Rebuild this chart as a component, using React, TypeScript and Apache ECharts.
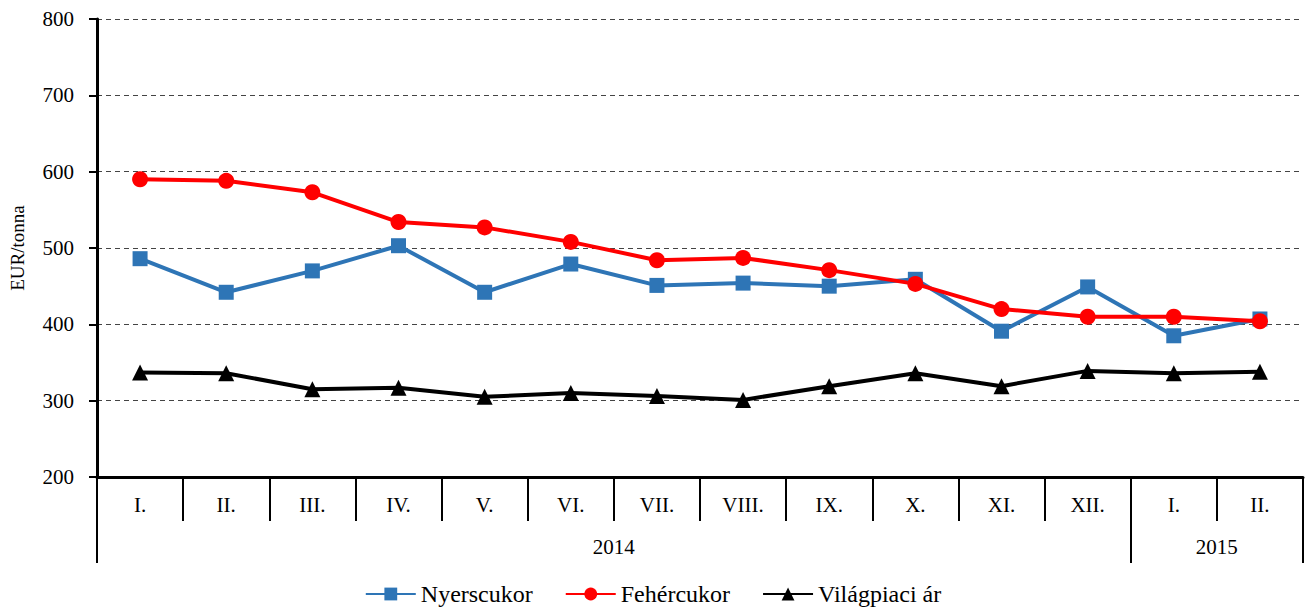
import React, { useEffect, useRef } from "react";
import * as echarts from "echarts";

const months = ["I.", "II.", "III.", "IV.", "V.", "VI.", "VII.", "VIII.", "IX.", "X.", "XI.", "XII.", "I.", "II."];
const years = ["2014", "2015"];
const yearSpans = [12, 2];
const nyerscukor = [486, 442, 470, 503, 442, 479, 451, 454, 450, 459, 391, 449, 385, 407];
const fehercukor = [590, 588, 573, 534, 527, 508, 484, 487, 471, 453, 420, 410, 410, 404];
const vilagpiaci = [337, 336, 315, 317, 305, 310, 306, 301, 319, 336, 319, 339, 336, 338];

const FONT = "Liberation Serif";

export default function App() {
  const ref = useRef<HTMLDivElement>(null);
  useEffect(() => {
    document.body.style.margin = "0";
    const chart = echarts.init(ref.current!, null, { renderer: "svg" });
    const n = months.length * 2 + 1;
    const yearData: string[] = new Array(n).fill("");
    const tickIdx = new Set<number>([0]);
    let start = 0;
    yearSpans.forEach((span, i) => {
      yearData[start + span] = years[i];
      start += span * 2;
      tickIdx.add(start);
    });
    const textStyle = { fontFamily: FONT, fontSize: 21, color: "#000" };
    chart.setOption({
      animation: false,
      textStyle: { fontFamily: FONT },
      grid: { left: 97, right: 3, top: 19, bottom: 134, containLabel: false, outerBoundsMode: "none" },
      legend: {
        bottom: 0,
        left: "center",
        itemWidth: 50,
        itemHeight: 16,
        itemGap: 32,
        textStyle: { fontFamily: FONT, fontSize: 24, color: "#000" },
        data: ["Nyerscukor", "Fehércukor", "Világpiaci ár"],
      },
      xAxis: [
        {
          type: "category",
          data: months,
          boundaryGap: true,
          axisLine: { lineStyle: { color: "#000", width: 3 } },
          axisTick: { show: true, interval: 0, length: 44, lineStyle: { color: "#000", width: 2 } },
          axisLabel: { ...textStyle, interval: 0, margin: 17 },
        },
        {
          type: "category",
          data: yearData,
          boundaryGap: false,
          position: "bottom",
          axisLine: { show: false },
          axisTick: {
            show: true,
            length: 86,
            interval: (i: number) => tickIdx.has(i),
            lineStyle: { color: "#000", width: 2 },
          },
          axisLabel: { ...textStyle, interval: 0, margin: 59 },
        },
      ],
      yAxis: {
        type: "value",
        min: 200,
        max: 800,
        interval: 100,
        name: "EUR/tonna",
        nameLocation: "middle",
        nameGap: 70,
        nameTextStyle: { ...textStyle, fontSize: 19 },
        axisLine: { show: true, lineStyle: { color: "#000", width: 3 } },
        axisTick: { show: true, length: 8, lineStyle: { color: "#000", width: 2 } },
        axisLabel: { ...textStyle, margin: 23 },
        splitLine: { lineStyle: { color: "#444", type: [5, 4], width: 1 } },
      },
      series: [
        {
          name: "Nyerscukor",
          type: "line",
          data: nyerscukor,
          symbol: "rect",
          symbolSize: 15,
          lineStyle: { color: "#2E75B6", width: 4 },
          itemStyle: { color: "#2E75B6" },
        },
        {
          name: "Fehércukor",
          type: "line",
          data: fehercukor,
          symbol: "circle",
          symbolSize: 16,
          lineStyle: { color: "#FF0000", width: 4 },
          itemStyle: { color: "#FF0000" },
        },
        {
          name: "Világpiaci ár",
          type: "line",
          data: vilagpiaci,
          symbol: "triangle",
          symbolSize: 16,
          lineStyle: { color: "#000", width: 4 },
          itemStyle: { color: "#000" },
        },
      ],
    });
    return () => chart.dispose();
  }, []);
  return <div ref={ref} style={{ width: 1306, height: 611 }} />;
}
